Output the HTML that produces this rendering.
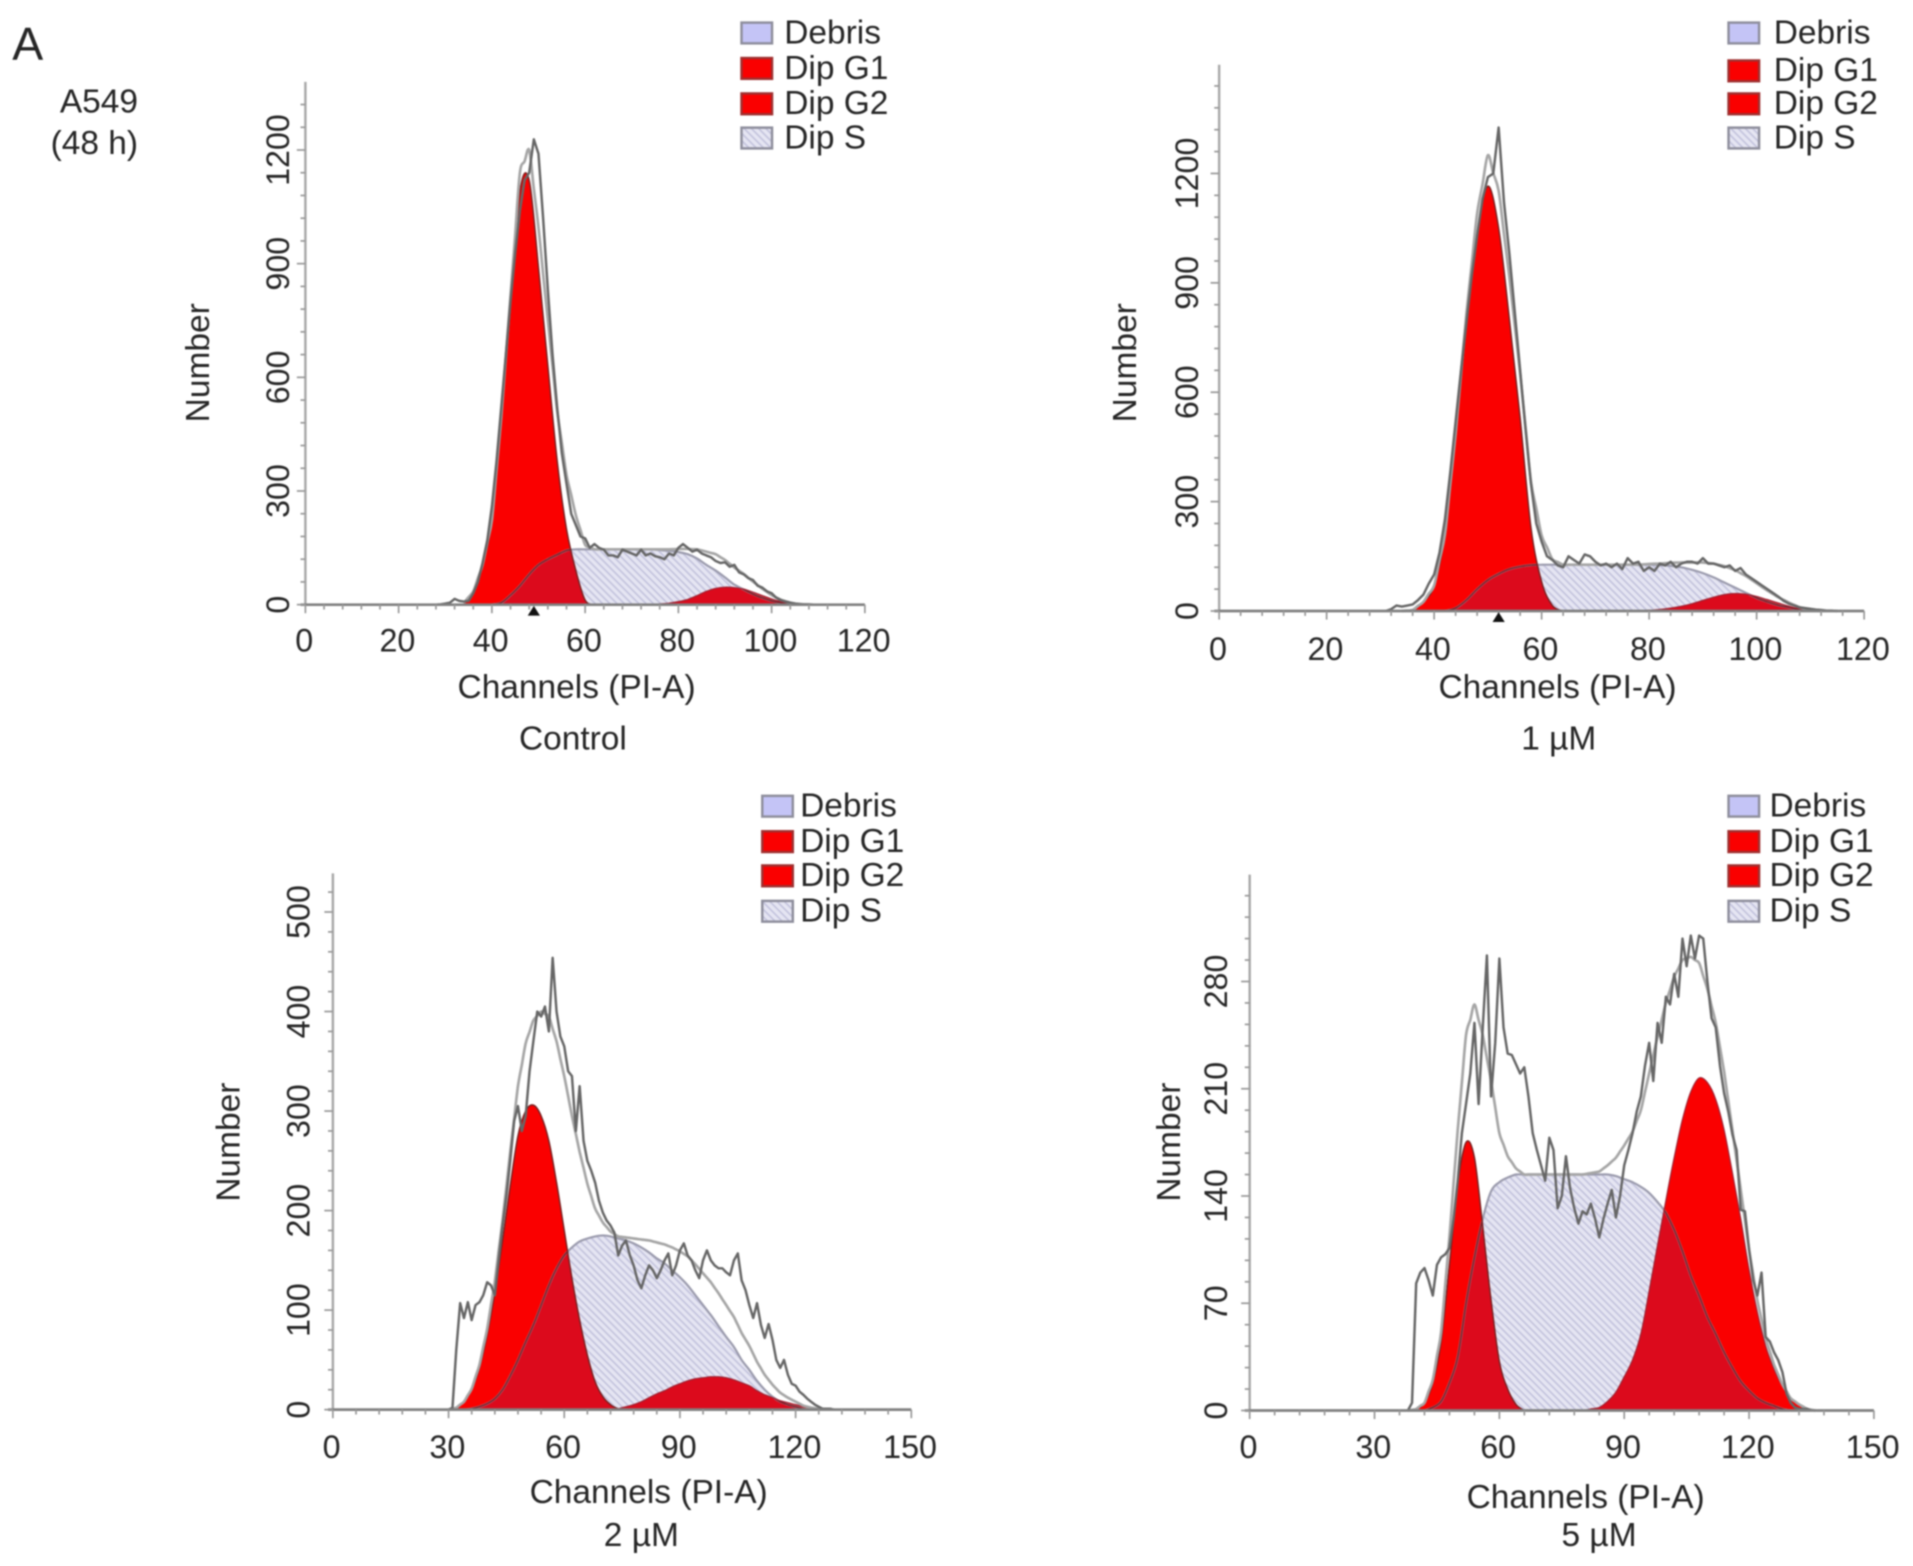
<!DOCTYPE html>
<html>
<head>
<meta charset="utf-8">
<title>A549 cell cycle histograms</title>
<style>
html,body{margin:0;padding:0;background:#fff;}
svg{display:block;width:1913px;height:1566px;filter:blur(0.9px);}
text{font-family:"Liberation Sans",sans-serif;fill:#262626;font-size:27.4px;}
text.tick{font-size:26.4px;}
</style>
</head>
<body>
<svg id="figure" xmlns="http://www.w3.org/2000/svg" viewBox="0 0 1566 1282" preserveAspectRatio="none">
  <defs>
    <pattern id="hatch" patternUnits="userSpaceOnUse" width="4.2" height="4.2" patternTransform="rotate(45)">
      <rect width="4.2" height="4.2" fill="#e5e5f2"></rect>
      <rect width="4.2" height="1.3" fill="#c2c2dc"></rect>
    </pattern>
  </defs>
  <text x="10" y="49" style="font-size:38px">A</text>
  <text x="113" y="92" text-anchor="end">A549</text>
  <text x="113" y="126" text-anchor="end">(48 h)</text>
</svg>
<script>
// ---------- Control ----------
const controlG1Start = 34;
const controlG1Counts = [5,35,105,224,490,790,1090,1120,890,630,380,200,90,12,0];
const controlSStart = 40;
const controlSCounts = [0,5,25,50,80,105,120,132,143,146,146,146,146,146,146,146,146,146,144,142,139,133,122,105,90,72,53,40,28,18,10,5,2,0];
const controlG2Start = 74;
const controlG2Counts = [0,2,4,8,14,24,35,43,46,45,41,33,24,15,8,3,1,0];
const controlRawStart = 28;
const controlRawCounts = [0,1,3,5,15,10,8,10,30,60,110,170,260,380,520,660,800,930,1040,1120,1140,1228,1190,1020,830,660,520,400,320,240,210,180,175,150,160,150,145,130,130,125,145,140,135,130,145,130,135,128,125,120,135,130,150,160,150,140,145,135,130,125,115,110,112,100,105,85,80,70,65,50,45,35,30,18,12,8,5,3,2,1,1,0];
const controlXTicks = [0,20,40,60,80,100,120];
const controlYTicks = [0,300,600,900,1200];
const controlMarker = [49];

// ---------- 1 uM ----------
const oneG1Start = 34;
const oneG1Counts = [0,3,25,70,210,480,785,1030,1165,1050,800,530,230,80,15,0];
const oneSStart = 42;
const oneSCounts = [0,8,30,60,85,102,115,122,126,127,127,127,127,127,127,127,127,127,127,127,126,124,120,113,104,92,78,64,50,36,25,16,10,4,1,0];
const oneG2Start = 78;
const oneG2Counts = [0,2,4,8,13,20,29,38,45,48,46,40,31,22,13,6,2,0];
const oneRawStart = 31;
const oneRawCounts = [0,5,15,12,15,18,30,45,75,100,160,250,380,520,660,790,920,1030,1130,1190,1200,1326,1120,980,820,660,500,350,240,190,150,140,125,120,150,140,130,155,150,135,125,130,120,130,115,145,130,135,110,120,110,130,125,135,120,130,135,135,130,145,130,130,125,120,125,110,118,100,90,80,70,60,50,40,28,20,15,10,8,6,4,3,1,1,0];
const oneXTicks = [0,20,40,60,80,100,120];
const oneYTicks = [0,300,600,900,1200];
const oneMarker = [52];

// ---------- 2 uM ----------
const twoG1Start = 30;
const twoG1Counts = [0,2,8,20,42,75,118,170,225,275,300,306,295,270,228,180,132,90,55,28,13,5,1,0];
const twoSStart = 34;
const twoSCounts = [0,1,3,6,11,20,34,50,68,85,105,125,142,155,163,169,172,174,175,174,172,170,167,163,158,152,147,140,133,125,115,105,95,84,73,63,50,40,29,20,13,8,5,3,1,0];
const twoG2Start = 72;
const twoG2Counts = [0,1,3,5,8,12,16,19,23,26,29,31,32,33,33,32,30,27,24,19,15,12,9,7,5,3,2,1,0];
const twoRawStart = 30;
const twoRawCounts = [0,2,60,107,92,108,90,105,108,115,128,125,115,150,185,215,250,290,305,280,295,340,370,400,395,405,380,454,400,375,365,340,335,280,325,270,250,240,228,210,198,190,185,178,155,165,170,155,145,130,122,135,145,140,132,140,150,157,135,145,160,167,155,150,140,132,150,160,150,145,142,142,138,135,150,157,130,120,105,92,107,85,72,86,70,50,42,50,35,26,24,18,15,11,8,5,3,1,1,1,0];
const twoXTicks = [0,30,60,90,120,150];
const twoYTicks = [0,100,200,300,400,500];
const twoMarker = [];

// ---------- 5 uM ----------
const fiveG1Start = 38;
const fiveG1Counts = [0,1,5,18,45,95,148,175,165,120,72,32,14,4,0];
const fiveSStart = 42;
const fiveSCounts = [0,2,6,18,35,70,100,125,143,149,152,154,154,154,154,154,154,154,154,154,154,154,154,153,151,149,146,142,136,129,118,104,88,75,61,50,38,28,19,13,8,5,3,1,0];
const fiveG2Start = 76;
const fiveG2Counts = [0,0,0,1,2,6,12,22,33,50,78,108,137,165,190,208,217,214,203,183,155,125,92,64,42,27,16,8,4,1,0];
const fiveRawStart = 38;
const fiveRawCounts = [0,5,83,90,93,85,75,95,100,102,106,125,150,181,200,220,253,200,250,297,205,240,295,250,233,232,226,220,224,205,181,170,160,150,178,170,132,140,166,145,132,122,130,128,135,125,113,125,135,144,126,140,160,170,181,195,205,225,240,215,253,240,270,265,285,270,308,290,310,295,310,308,280,256,250,225,207,195,180,170,131,130,105,85,75,90,48,45,38,33,25,11,5,2,1,1,1,0];
const fiveXTicks = [0,30,60,90,120,150];
const fiveYTicks = [0,70,140,210,280];
const fiveMarker = [];

const legendLabels = ['Debris','Dip G1','Dip G2','Dip S'];

// ---------- layout (pixels in figure space) ----------
const panels = [
  {id:'control',title:'Control',xMax:120,xMinor:4,yMinor:60,left:250,right:708,base:495,yRefVal:1200,yRefPx:122.8,top:67,
   g1:[controlG1Start,controlG1Counts],s:[controlSStart,controlSCounts],g2:[controlG2Start,controlG2Counts],raw:[controlRawStart,controlRawCounts],
   xTicks:controlXTicks,yTicks:controlYTicks,marker:controlMarker,
   yLabX:236.5,numX:171,numY:297,xLabY:533.5,chX:472,chY:571.5,titleX:469,titleY:613.5,
   legSw:607,legTx:642,legY:[27,56,85,113]},
  {id:'one-um',title:'1 \u00b5M',xMax:120,xMinor:4,yMinor:60,left:998,right:1526,base:500.2,yRefVal:1200,yRefPx:142,top:53,
   g1:[oneG1Start,oneG1Counts],s:[oneSStart,oneSCounts],g2:[oneG2Start,oneG2Counts],raw:[oneRawStart,oneRawCounts],
   xTicks:oneXTicks,yTicks:oneYTicks,marker:oneMarker,
   yLabX:980.5,numX:930,numY:297,xLabY:540.5,chX:1275,chY:571.5,titleX:1276,titleY:613.5,
   legSw:1415,legTx:1452,legY:[27,58,85,113]},
  {id:'two-um',title:'2 \u00b5M',xMax:150,xMinor:6,yMinor:20,left:272.5,right:746,base:1154,yRefVal:500,yRefPx:746.6,top:715,
   g1:[twoG1Start,twoG1Counts],s:[twoSStart,twoSCounts],g2:[twoG2Start,twoG2Counts],raw:[twoRawStart,twoRawCounts],
   xTicks:twoXTicks,yTicks:twoYTicks,marker:twoMarker,
   yLabX:253.5,numX:196,numY:935,xLabY:1193.5,chX:531,chY:1230.5,titleX:525,titleY:1265.5,
   legSw:624,legTx:655,legY:[660,689,717,746]},
  {id:'five-um',title:'5 \u00b5M',xMax:150,xMinor:6,yMinor:14,left:1023,right:1534,base:1154.7,yRefVal:280,yRefPx:803.5,top:716,
   g1:[fiveG1Start,fiveG1Counts],s:[fiveSStart,fiveSCounts],g2:[fiveG2Start,fiveG2Counts],raw:[fiveRawStart,fiveRawCounts],
   xTicks:fiveXTicks,yTicks:fiveYTicks,marker:fiveMarker,
   yLabX:1004.5,numX:966,numY:935,xLabY:1193.5,chX:1298,chY:1234.5,titleX:1309,titleY:1265.5,
   legSw:1415,legTx:1448.5,legY:[660,689,717,746]}
];

const NS = 'http://www.w3.org/2000/svg';
const svg = document.getElementById('figure');

function make(parent, tag, attrs, txt) {
  const el = document.createElementNS(NS, tag);
  for (const k in attrs) el.setAttribute(k, attrs[k]);
  if (txt !== undefined) el.textContent = txt;
  parent.appendChild(el);
  return el;
}

function toPoints(series, xFn, yFn, step) {
  const start = series[0], vals = series[1], pts = [];
  for (let i = 0; i < vals.length; i++) pts.push([xFn(start + i * step), yFn(vals[i])]);
  return pts;
}

function smooth(pts) {
  let d = 'M' + pts[0][0].toFixed(1) + ' ' + pts[0][1].toFixed(1);
  for (let i = 0; i < pts.length - 1; i++) {
    const p0 = pts[Math.max(0, i - 1)], p1 = pts[i], p2 = pts[i + 1], p3 = pts[Math.min(pts.length - 1, i + 2)];
    const c1x = p1[0] + (p2[0] - p0[0]) / 6, c1y = p1[1] + (p2[1] - p0[1]) / 6;
    const c2x = p2[0] - (p3[0] - p1[0]) / 6, c2y = p2[1] - (p3[1] - p1[1]) / 6;
    d += 'C' + c1x.toFixed(1) + ' ' + c1y.toFixed(1) + ' ' + c2x.toFixed(1) + ' ' + c2y.toFixed(1) + ' ' + p2[0].toFixed(1) + ' ' + p2[1].toFixed(1);
  }
  return d;
}

function area(pts, baseY) {
  return smooth(pts) + 'L' + pts[pts.length - 1][0].toFixed(1) + ' ' + baseY + 'L' + pts[0][0].toFixed(1) + ' ' + baseY + 'Z';
}

function valueAt(series, step, c) {
  const start = series[0], vals = series[1];
  const pos = (c - start) / step;
  if (pos < 0 || pos > vals.length - 1) return 0;
  const i = Math.floor(pos), f = pos - i;
  return i + 1 < vals.length ? vals[i] * (1 - f) + vals[i + 1] * f : vals[i];
}

panels.forEach(function (p) {
  const xScale = function (c) { return p.left + (p.right - p.left) * c / p.xMax; };
  const yScale = function (v) { return p.base - (p.base - p.yRefPx) * v / p.yRefVal; };
  const g = make(svg, 'g', {});
  
  

  const g1Pts = toPoints(p.g1, xScale, yScale, 2);
  const sPts = toPoints(p.s, xScale, yScale, 2);
  const g2Pts = toPoints(p.g2, xScale, yScale, 2);
  const g1Path = area(g1Pts, p.base);
  const sPath = area(sPts, p.base);
  const g2Path = area(g2Pts, p.base);

  const clipId = 'overlap-' + p.id;
  const clip = make(svg.querySelector('defs'), 'clipPath', {id: clipId});
  make(clip, 'path', {d: g1Path});
  make(clip, 'path', {d: g2Path});

  const sFill = make(g, 'path', {d: sPath, fill: 'url(#hatch)'});
  
  

  const g1Fill = make(g, 'path', {d: g1Path, fill: '#fa0000'});
  
  

  const g2Fill = make(g, 'path', {d: g2Path, fill: '#fa0000'});
  
  

  const overlap = make(g, 'path', {d: sPath, fill: '#dc0a1c', 'clip-path': 'url(#' + clipId + ')'});
  
  

  const sLine = make(g, 'path', {d: smooth(sPts), fill: 'none', stroke: '#9c9cae', 'stroke-width': 1.8});
  
  

  const sDark = make(g, 'path', {d: smooth(sPts), fill: 'none', stroke: '#7a1a22', 'stroke-width': 1.2, 'clip-path': 'url(#' + clipId + ')'});
  
  

  const g1Line = make(g, 'path', {d: smooth(g1Pts), fill: 'none', stroke: '#7a2020', 'stroke-width': 1.2});
  
  

  const g2Line = make(g, 'path', {d: smooth(g2Pts), fill: 'none', stroke: '#a02030', 'stroke-width': 1});
  
  

  // fit = sum of the three components
  const fitPts = [];
  for (let c = Math.min(p.g1[0], p.s[0]); c <= p.g2[0] + (p.g2[1].length - 1) * 2; c++) {
    const total = valueAt(p.g1, 2, c) + valueAt(p.s, 2, c) + valueAt(p.g2, 2, c);
    fitPts.push([xScale(c), yScale(total)]);
  }
  const fit = make(g, 'path', {d: smooth(fitPts), fill: 'none', stroke: '#a6a6a6', 'stroke-width': 2.2});
  
  

  const rawPts = toPoints(p.raw, xScale, yScale, 1);
  const rawStr = rawPts.map(function (q) { return q[0].toFixed(1) + ',' + q[1].toFixed(1); }).join(' ');
  const raw = make(g, 'polyline', {points: rawStr, fill: 'none', stroke: '#666', 'stroke-width': 2, 'stroke-linejoin': 'round'});
  
  

  // axes
  const yAxis = make(g, 'line', {x1: p.left, x2: p.left, y1: p.top, y2: p.base, stroke: '#a8a8a8', 'stroke-width': 2});
  
  

  const xAxis = make(g, 'line', {x1: p.left - 4, x2: p.right, y1: p.base, y2: p.base, stroke: '#808080', 'stroke-width': 2.2});
  
  

  for (let c = 0; c <= p.xMax; c += p.xMinor) {
    const major = p.xTicks.indexOf(c) >= 0;
    const t = make(g, 'line', {x1: xScale(c), x2: xScale(c), y1: p.base, y2: p.base + (major ? 7 : 4), stroke: '#999', 'stroke-width': 1.4});
    
    
  }
  for (let v = 0; yScale(v) >= p.top; v += p.yMinor) {
    const major = p.yTicks.indexOf(v) >= 0;
    const t = make(g, 'line', {x1: p.left - (major ? 7 : 4), x2: p.left, y1: yScale(v), y2: yScale(v), stroke: '#999', 'stroke-width': 1.4});
    
    
  }

  p.xTicks.forEach(function (c) {
    const t = make(g, 'text', {x: xScale(c) - 1, y: p.xLabY, 'text-anchor': 'middle', class: 'tick'}, String(c));
    
    
  });
  p.yTicks.forEach(function (v) {
    const yp = yScale(v);
    const t = make(g, 'text', {x: p.yLabX, y: yp, 'text-anchor': 'middle', class: 'tick', transform: 'rotate(-90 ' + p.yLabX + ' ' + yp + ')'}, String(v));
    
    
  });

  p.marker.forEach(function (c) {
    const xp = xScale(c);
    const m = make(g, 'polygon', {points: (xp - 5) + ',' + (p.base + 9) + ' ' + (xp + 5) + ',' + (p.base + 9) + ' ' + xp + ',' + (p.base + 1), fill: '#111'});
    
    
  });

  const yTitle = make(g, 'text', {x: p.numX, y: p.numY, 'text-anchor': 'middle', transform: 'rotate(-90 ' + p.numX + ' ' + p.numY + ')'}, 'Number');
  
  

  const xTitle = make(g, 'text', {x: p.chX, y: p.chY, 'text-anchor': 'middle'}, 'Channels (PI-A)');
  
  

  const title = make(g, 'text', {x: p.titleX, y: p.titleY, 'text-anchor': 'middle'}, p.title);
  
  

  // legend
  const swatchFills = ['#c4c4f6', '#fa0000', '#fa0000', 'url(#hatch)'];
  legendLabels.forEach(function (label, i) {
    const yc = p.legY[i];
    const sw = make(g, 'rect', {x: p.legSw, y: yc - 8.5, width: 25, height: 17, fill: swatchFills[i], stroke: i === 1 || i === 2 ? '#a03030' : '#8e8e9c', 'stroke-width': 2});
    
    
    const tx = make(g, 'text', {x: p.legTx, y: yc + 8.5}, label);
    
    
  });
});
</script>
</body>
</html>
